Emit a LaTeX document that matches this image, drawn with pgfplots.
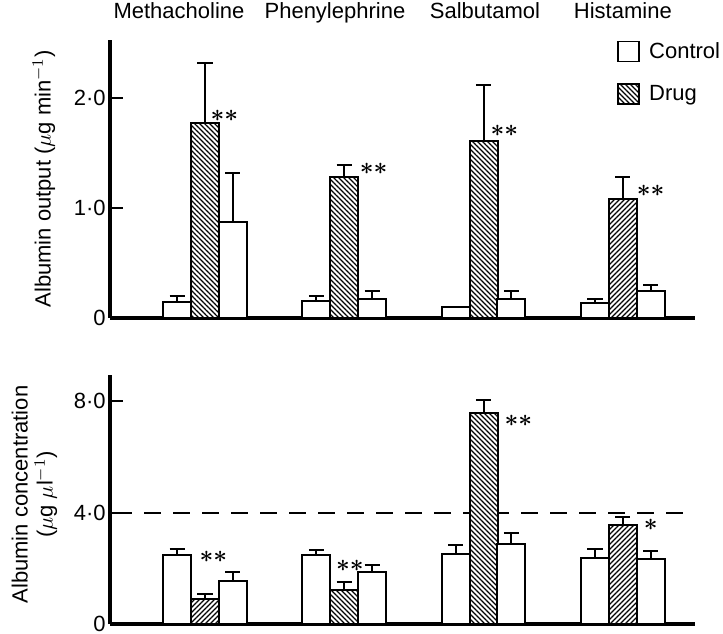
\documentclass[border=0pt]{standalone}
\usepackage{fontspec}
\setmainfont{Liberation Sans}
\usepackage{pgfplots}
\pgfplotsset{compat=1.18}
\usetikzlibrary{patterns.meta}

\newcommand{\lf}{\fontsize{11bp}{12.5bp}\selectfont}
\newcommand{\starfont}{\fontsize{12bp}{12bp}\selectfont\boldmath}
\tikzset{
  hatchNW/.style={fill=white, postaction={pattern={Lines[angle=-45,distance=1.7678bp,line width=0.6bp]}}},
  hatchNE/.style={fill=white, postaction={pattern={Lines[angle=45,distance=1.7678bp,line width=0.6bp]}}},
}
\pgfplotsset{
  mybase/.style={
    scale only axis, width=292.5bp, xmin=-0.682, xmax=3.518, ymin=0,
    axis x line*=bottom, axis y line*=left,
    axis line style={-, line width=1.7bp, black},
    xtick=\empty, ytick pos=left, tick align=inside, major tick length=6.5bp,
    major tick style={line width=1bp, black},
    ybar, bar width=0.201, bar shift=0pt,
    clip=false,
    font=\lf,
    yticklabel style={font=\lf, inner sep=2bp},
    ylabel style={font=\lf},
  },
  eb/.style={draw=black, line width=1bp, forget plot,
    error bars/y dir=plus, error bars/y explicit,
    error bars/error bar style={line width=1bp, black},
    error bars/error mark options={rotate=90, line width=1bp, mark size=3.8bp, black}},
}

\begin{document}
\begin{tikzpicture}
% ---------------- Top panel: albumin output ----------------
\begin{axis}[mybase, at={(0,153bp)}, anchor=south west, height=139bp,
  ymax=2.527, ytick={0,1,2}, yticklabels={0,1·0,2·0},
  ylabel={Albumin output ($\mu$g min$^{-1}$)},
  ylabel style={at={(axis description cs:-0.113,0.5)}, anchor=center},
  legend style={at={(rel axis cs:0.866,1.008)}, anchor=north west, draw=none, fill=none,
    font=\lf, inner sep=0pt, row sep=8bp, cells={anchor=west}},
]
% control
\addplot[eb, fill=white] coordinates {
  (-0.2,0.145) +- (0,0.055)
  (0.8,0.15)  +- (0,0.05)
  (1.8,0.10)  +- (0,0.0)
  (2.8,0.14)  +- (0,0.03)
};
% drug (\\\ hatch)
\addplot[eb, hatchNW] coordinates {
  (0,1.77) +- (0,0.55)
  (1,1.28) +- (0,0.11)
  (2,1.61) +- (0,0.51)
};
% drug (/// hatch)
\addplot[eb, hatchNE] coordinates {
  (3,1.08) +- (0,0.20)
};
% recovery control
\addplot[eb, fill=white] coordinates {
  (0.2,0.87)  +- (0,0.45)
  (1.2,0.175) +- (0,0.07)
  (2.2,0.17)  +- (0,0.075)
  (3.2,0.245) +- (0,0.055)
};
\addlegendimage{legend image code/.code={\draw[black,line width=0.8bp,fill=white] (0bp,-5bp) rectangle (10.5bp,5bp); \path (13.5bp,0bp);}}
\addlegendentry{Control}
\addlegendimage{legend image code/.code={\draw[black,line width=0.8bp,hatchNW] (0bp,-5bp) rectangle (10.5bp,5bp); \path (13.5bp,0bp);}}
\addlegendentry{Drug}
% significance marks
\node[font=\starfont] at (axis cs:0.14,1.84) {$\ast\ast$};
\node[font=\starfont] at (axis cs:1.21,1.36) {$\ast\ast$};
\node[font=\starfont] at (axis cs:2.15,1.70) {$\ast\ast$};
\node[font=\starfont] at (axis cs:3.20,1.16) {$\ast\ast$};
% group names
\node[font=\lf, anchor=base] at (axis cs:-0.187,2.718) {Methacholine};
\node[font=\lf, anchor=base] at (axis cs:0.933,2.718) {Phenylephrine};
\node[font=\lf, anchor=base] at (axis cs:2.01,2.718) {Salbutamol};
\node[font=\lf, anchor=base] at (axis cs:3.0,2.718) {Histamine};
\end{axis}

% ---------------- Bottom panel: albumin concentration ----------------
\begin{axis}[mybase, at={(0,0)}, anchor=south west, height=124.5bp,
  ymax=8.94, ytick={0,4,8}, yticklabels={0,4·0,8·0},
  ylabel={Albumin concentration\\($\mu$g $\mu$l$^{-1}$)},
  ylabel style={at={(axis description cs:-0.129,0.52)}, anchor=center, align=center},
]
\addplot[forget plot, sharp plot, draw=black, line width=1bp, dash pattern=on 8.5bp off 6bp] coordinates {(-0.646,4) (3.43,4)};
% control
\addplot[eb, fill=white] coordinates {
  (-0.2,2.47) +- (0,0.23)
  (0.8,2.49)  +- (0,0.18)
  (1.8,2.52)  +- (0,0.33)
  (2.8,2.38)  +- (0,0.30)
};
% drug (/// hatch)
\addplot[eb, hatchNE] coordinates {
  (0,0.91) +- (0,0.16)
  (3,3.57) +- (0,0.27)
};
% drug (\\\ hatch)
\addplot[eb, hatchNW] coordinates {
  (1,1.23) +- (0,0.28)
  (2,7.58) +- (0,0.45)
};
% recovery control
\addplot[eb, fill=white] coordinates {
  (0.2,1.54) +- (0,0.32)
  (1.2,1.87) +- (0,0.24)
  (2.2,2.87) +- (0,0.41)
  (3.2,2.35) +- (0,0.26)
};
\node[font=\starfont] at (axis cs:0.06,2.40) {$\ast\ast$};
\node[font=\starfont] at (axis cs:1.04,2.09) {$\ast\ast$};
\node[font=\starfont] at (axis cs:2.25,7.28) {$\ast\ast$};
\node[font=\starfont] at (axis cs:3.20,3.55) {$\ast$};
\end{axis}
\pgfresetboundingbox
\path[use as bounding box] (-55bp,-5bp) rectangle (306.5bp,312bp);
\end{tikzpicture}
\end{document}
